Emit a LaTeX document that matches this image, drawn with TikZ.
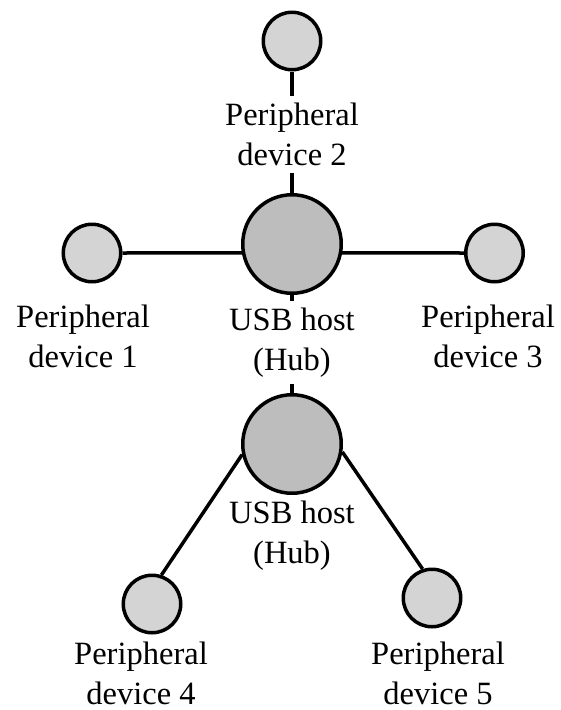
\documentclass[tikz,border=0pt]{standalone}
\usepackage{fontspec}
\setmainfont{Liberation Serif}
\definecolor{devfill}{RGB}{212,212,212}
\definecolor{hubfill}{RGB}{189,189,189}
\begin{document}
\begin{tikzpicture}[x=1pt,y=-1pt,
  every node/.style={font=\fontsize{32.5}{39.5}\selectfont},
  dev/.style={circle,draw,line width=3.5pt,fill=devfill,minimum size=57.5pt,inner sep=0pt},
  hub/.style={circle,draw,line width=3.5pt,fill=hubfill,minimum size=98.5pt,inner sep=0pt},
  % anchor=base sits on the baseline of the last line
  lab/.style={align=center,anchor=base,inner xsep=0pt,inner ysep=7pt},
  link/.style={line width=3.5pt}]
\useasboundingbox (0,0) rectangle (560,710);

% devices and hubs
\node[dev] (p2) at (292,41) {};
\node[hub] (h1) at (292,244) {};
\node[dev] (p1) at (92,253) {};
\node[dev] (p3) at (494.5,253) {};
\node[hub] (h2) at (292,444) {};
\node[dev] (p4) at (152,604) {};
\node[dev] (p5) at (432,598) {};

% labels
\node[lab] (l2) at (292,165) {Peripheral\\device 2};
\node[lab] (l1) at (83,367) {Peripheral\\device 1};
\node[lab] (lh1) at (292,370) {USB host\\(Hub)};
\node[lab] (l3) at (488,367) {Peripheral\\device 3};
\node[lab] (lh2) at (292,563) {USB host\\(Hub)};
\node[lab] (l4) at (141,704) {Peripheral\\device 4};
\node[lab] (l5) at (438,704) {Peripheral\\device 5};

% connections
\draw[link] (p2.south) -- (l2.north);
\draw[link] (l2.south) -- (h1.north);
\draw[link] (p1.east) -- (h1.190);
\draw[link] (h1.350) -- (p3.west);
\draw[link] (h1.south) -- (lh1.north);
\draw[link] (lh1.south) -- (h2.north);
\draw[link] (h2.192) -- (p4.72);
\draw[link] (h2.351) -- (p5.108);
\end{tikzpicture}
\end{document}
